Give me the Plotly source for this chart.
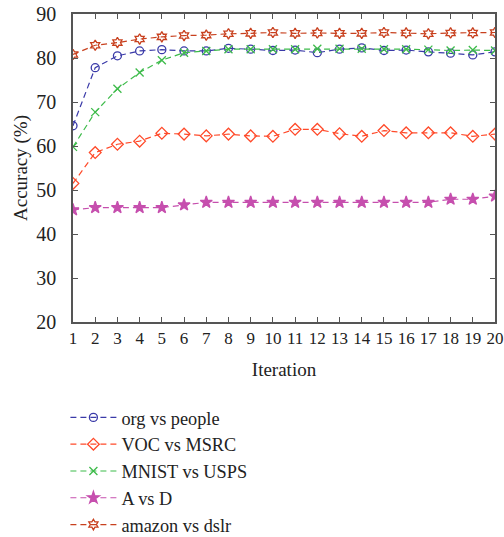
import plotly.graph_objects as go

iterations = list(range(1, 21))

org_vs_people = [64.6, 77.8, 80.5, 81.6, 81.9, 81.6, 81.6, 82.2, 82.0, 81.7,
                 81.8, 81.2, 82.0, 82.3, 81.7, 81.8, 81.4, 81.1, 80.7, 81.4]
voc_vs_msrc = [51.5, 58.5, 60.4, 61.1, 62.9, 62.7, 62.3, 62.7, 62.3, 62.2,
               63.8, 63.8, 62.8, 62.2, 63.5, 63.0, 63.0, 63.0, 62.2, 62.7]
mnist_vs_usps = [59.8, 67.7, 73.0, 76.7, 79.5, 81.2, 81.6, 82.0, 82.0, 82.0,
                 82.0, 82.1, 82.1, 82.1, 82.0, 82.0, 81.9, 81.7, 81.8, 81.7]
a_vs_d = [45.5, 46.0, 46.0, 46.0, 46.0, 46.6, 47.2, 47.2, 47.2, 47.2,
          47.2, 47.2, 47.2, 47.2, 47.2, 47.2, 47.2, 47.9, 47.9, 48.6]
amazon_vs_dslr = [80.8, 82.9, 83.5, 84.3, 84.8, 85.1, 85.2, 85.5, 85.6, 85.8,
                  85.6, 85.7, 85.6, 85.6, 85.8, 85.7, 85.5, 85.7, 85.7, 85.8]

series = [
    ("org vs people", org_vs_people, "#3a3aa8", "circle-open", 8),
    ("VOC vs MSRC", voc_vs_msrc, "#ff4a2a", "diamond-open", 9),
    ("MNIST vs USPS", mnist_vs_usps, "#3dbb4a", "x-thin-open", 8),
    ("A vs D", a_vs_d, "#c64fae", "star", 9),
    ("amazon vs dslr", amazon_vs_dslr, "#c8401e", "hexagram-open", 8),
]

fig = go.Figure()
for name, vals, color, symbol, size in series:
    fig.add_trace(go.Scatter(
        x=iterations, y=vals, name=name, mode="lines+markers",
        line=dict(color=color, width=1.2, dash="6px,4px"),
        marker=dict(symbol=symbol, size=size, color=color,
                    line=dict(color=color, width=1.3)),
    ))

font_family = "Liberation Serif, Times New Roman, serif"
axis_common = dict(
    showline=True, linecolor="#555555", linewidth=1.5, mirror="ticks",
    ticks="inside", ticklen=5, tickcolor="#555555", tickwidth=1,
    showgrid=False, zeroline=False,
)

fig.update_layout(
    width=504, height=537,
    margin=dict(l=73, r=9, t=14, b=215, autoexpand=False),
    plot_bgcolor="white", paper_bgcolor="white",
    font=dict(family=font_family, size=19, color="#222222"),
    xaxis=dict(range=[1, 20], tickmode="linear", tick0=1, dtick=1,
               ticklabelstandoff=0,
               tickfont=dict(family=font_family, size=17, color="#222222"),
               title=dict(text="Iteration", standoff=16,
                          font=dict(family=font_family, size=19)),
               **axis_common),
    yaxis=dict(range=[20, 90], tickmode="linear", tick0=20, dtick=10,
               ticklabelstandoff=11,
               tickfont=dict(family=font_family, size=20, color="#222222"),
               title=dict(text="Accuracy (%)", standoff=4,
                          font=dict(family=font_family, size=19)),
               **axis_common),
    legend=dict(x=-0.018, y=-0.25, xanchor="left", yanchor="top",
                bgcolor="rgba(0,0,0,0)", itemwidth=46,
                font=dict(family=font_family, size=18.3, color="#222222")),
    showlegend=True,
)

fig.write_html("out.html")
